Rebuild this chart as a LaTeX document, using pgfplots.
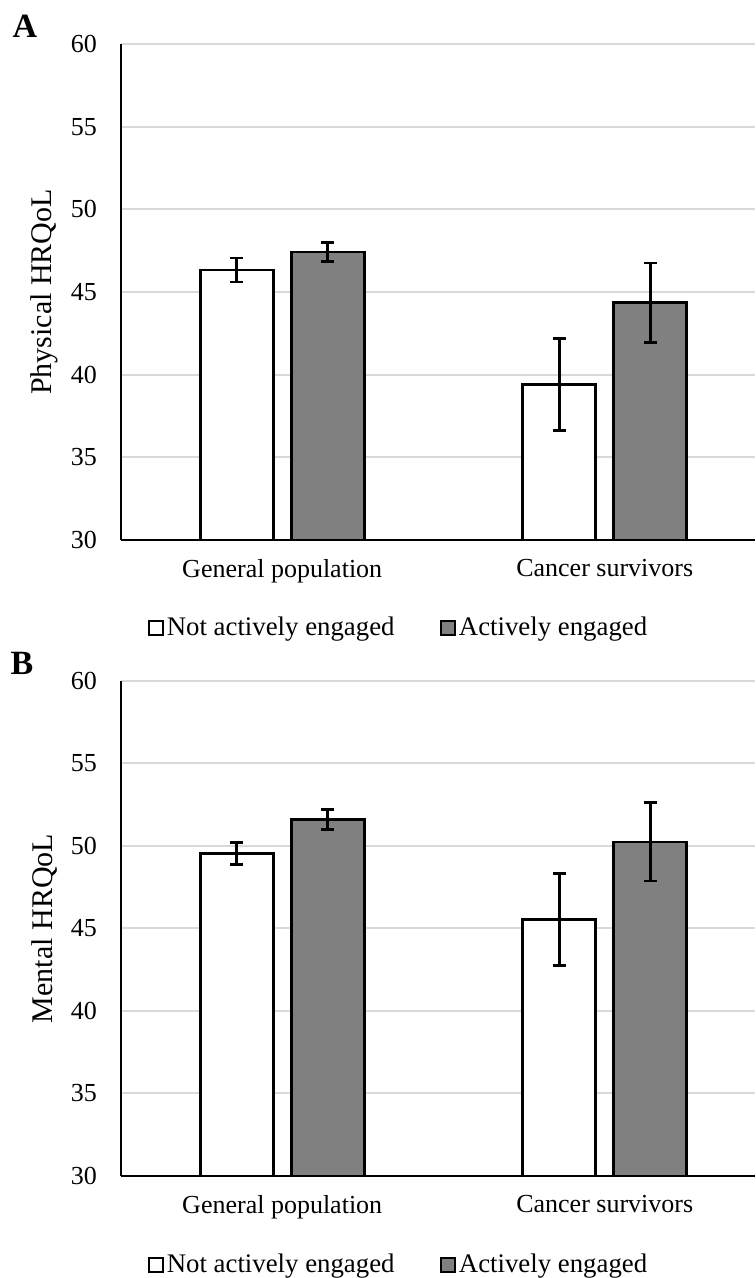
\documentclass[border=0pt]{standalone}
\usepackage{pgfplots}
\pgfplotsset{compat=1.18}
\usepackage{fontspec}
\setmainfont{Liberation Serif}
\definecolor{barGray}{HTML}{808080}
\definecolor{gridGray}{HTML}{D9D9D9}
\newcommand{\lblfont}{\fontsize{13}{15}\selectfont}
\pgfplotsset{
  panel/.style={
    scale only axis, width=317pt,
    xmin=-0.5, xmax=1.466, ymin=30, ymax=60, ytick={30,35,...,60},
    xtick={0,1}, xticklabels={General population, Cancer survivors},
    axis x line*=bottom, axis y line*=left,
    major tick length=0pt,
    ymajorgrids, grid style={gridGray, line width=1pt},
    axis line style={black, line width=1pt},
    tick label style={font=\lblfont},
    label style={font=\fontsize{15}{17}\selectfont},
    /pgf/number format/assume math mode=true,
    yticklabel style={xshift=-8.5pt},
    xticklabel style={yshift=-6pt},
    ylabel style={at={(axis description cs:-0.121,0.5)}, anchor=center},
    ybar, bar width=0.2264,
    legend columns=2,
    legend style={draw=none, fill=none, anchor=center, font=\fontsize{13.4}{15}\selectfont,
      nodes={inner sep=1.6pt},
      /tikz/every even column/.append style={column sep=21pt}},
  },
  bardef/.style={draw=black, line width=1.3pt, fill=#1,
    legend image code/.code={\draw[draw=black, line width=1pt, fill=#1] (0pt,-3.5pt) rectangle (7pt,3.5pt);},
    /pgfplots/error bars/y dir=both, /pgfplots/error bars/y explicit,
    /pgfplots/error bars/error bar style={line width=1.3pt, black},
    /pgfplots/error bars/error mark options={rotate=90, mark size=3.2pt, line width=1.3pt, black}},
}
\begin{document}
\begin{tikzpicture}
\useasboundingbox (0,0) rectangle (377.5pt,639pt);
\node[font=\fontsize{17}{19}\selectfont\bfseries] at (12.5pt,626pt) {A};
\node[font=\fontsize{17}{19}\selectfont\bfseries] at (11pt,307.5pt) {B};
\begin{axis}[panel, at={(60.5pt,369pt)}, anchor=south west, height=248pt,
  ylabel={Physical HRQoL},
  legend style={at={(axis description cs:0.4385,-0.177)}}]
\addplot[bardef=white, bar shift=-0.141] coordinates {(0,46.33) +- (0,0.72) (1,39.4) +- (0,2.78)};
\addplot[bardef=barGray, bar shift=0.141] coordinates {(0,47.42) +- (0,0.57) (1,44.35) +- (0,2.4)};
\legend{Not actively engaged, Actively engaged}
\end{axis}
\begin{axis}[panel, at={(60.5pt,51pt)}, anchor=south west, height=247.5pt,
  ylabel={Mental HRQoL},
  legend style={at={(axis description cs:0.4385,-0.18)}}]
\addplot[bardef=white, bar shift=-0.141] coordinates {(0,49.55) +- (0,0.67) (1,45.55) +- (0,2.8)};
\addplot[bardef=barGray, bar shift=0.141] coordinates {(0,51.6) +- (0,0.6) (1,50.25) +- (0,2.37)};
\legend{Not actively engaged, Actively engaged}
\end{axis}
\end{tikzpicture}
\end{document}
